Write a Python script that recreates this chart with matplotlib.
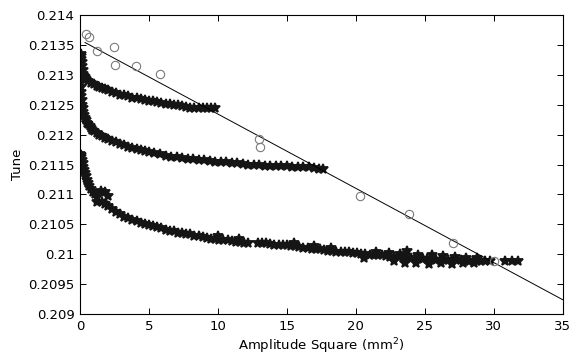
import matplotlib.pyplot as plt
import matplotlib.ticker as mticker

# measured tune points (open circles)
meas_x = [0.41, 0.68, 1.26, 2.47, 2.54, 4.07, 5.81, 12.95, 13.07, 20.28, 23.89, 27.06, 30.06]
meas_y = [0.21369, 0.21364, 0.21339, 0.21347, 0.21316, 0.21314, 0.21302,
          0.21192, 0.21179, 0.21097, 0.21067, 0.21018, 0.20989]

# linear fit through the measured points
fit_x = [0.36, 35.0]
fit_y = [0.21354, 0.20924]

# tracking curve 1 (top)
c1_x = [0.05, 0.08, 0.10, 0.12, 0.15, 0.18, 0.22, 0.28, 0.35, 0.45, 0.6, 0.8, 1.0, 1.2, 1.4,
        1.6, 1.8, 2.0, 2.3, 2.6, 2.9, 3.2, 3.5, 3.8, 4.1, 4.4, 4.7, 5.0, 5.3, 5.6, 5.9,
        6.2, 6.5, 6.8, 7.1, 7.4, 7.7, 8.0, 8.3, 8.6, 8.9, 9.2, 9.5, 9.8]
c1_y = [0.21334, 0.21331, 0.21327, 0.21321, 0.21315, 0.21308, 0.21302, 0.21298, 0.21296,
        0.21293, 0.21290, 0.21287, 0.21284, 0.21282, 0.21280, 0.21278, 0.21276, 0.21275,
        0.21272, 0.21270, 0.21267, 0.21266, 0.21264, 0.21262, 0.21261, 0.21260, 0.21258,
        0.21257, 0.21256, 0.21255, 0.21253, 0.21252, 0.21251, 0.21250, 0.21249, 0.21248,
        0.21246, 0.21245, 0.21245, 0.21244, 0.21244, 0.21244, 0.21244, 0.21244]

# tracking curve 2 (middle)
c2_x = [0.02, 0.05, 0.08, 0.10, 0.12, 0.15, 0.18, 0.22, 0.27, 0.33, 0.40, 0.5, 0.6, 0.7,
        0.8, 0.9, 1.0, 1.2, 1.4, 1.6, 1.8, 2.0, 2.3, 2.6, 2.9, 3.2, 3.5, 3.8, 4.1, 4.4,
        4.7, 5.0, 5.4, 5.8, 6.2, 6.6, 7.0, 7.4, 7.8, 8.2, 8.6, 9.0, 9.4, 9.8, 10.2, 10.6,
        11.0, 11.4, 11.8, 12.2, 12.6, 13.0, 13.4, 13.8, 14.2, 14.6, 15.0, 15.4, 15.8,
        16.2, 16.6, 17.0, 17.3, 17.6]
c2_y = [0.21286, 0.21280, 0.21272, 0.21265, 0.21258, 0.21250, 0.21244, 0.21238, 0.21233,
        0.21228, 0.21224, 0.21220, 0.21217, 0.21214, 0.21211, 0.21208, 0.21206, 0.21203,
        0.21200, 0.21197, 0.21195, 0.21193, 0.21190, 0.21187, 0.21184, 0.21182, 0.21180,
        0.21178, 0.21176, 0.21174, 0.21172, 0.21171, 0.21169, 0.21167, 0.21165, 0.21163,
        0.21162, 0.21161, 0.21160, 0.21159, 0.21158, 0.21157, 0.21156, 0.21155, 0.21155,
        0.21154, 0.21153, 0.21152, 0.21151, 0.21150, 0.21150, 0.21149, 0.21148, 0.21148,
        0.21148, 0.21147, 0.21147, 0.21146, 0.21146, 0.21145, 0.21145, 0.21144, 0.21143,
        0.21142]

# tracking curve 3 (bottom)
c3_x = [0.02, 0.06, 0.10, 0.15, 0.20, 0.25, 0.30, 0.36, 0.42, 0.50, 0.58, 0.68, 0.80, 0.95,
        1.10, 1.25, 1.2, 1.5, 1.8, 2.0, 1.6, 1.8, 2.0, 2.3, 2.6, 2.9, 3.2, 3.5, 3.8, 4.1,
        4.4, 4.7, 5.0, 5.3, 5.6, 5.9, 6.2, 6.5, 6.8, 7.1, 7.4, 7.7, 8.0, 8.3, 8.6, 8.9,
        9.2, 9.5, 9.8, 10.1, 10.4, 10.7, 11.0, 11.3, 11.6, 11.9, 12.2, 12.9, 13.2, 13.5,
        13.8, 14.1, 14.4, 14.7, 15.0, 15.3, 15.6, 15.9, 16.2, 16.5, 16.8, 17.1, 17.4,
        17.7, 18.0, 18.3, 18.6, 18.9, 19.2, 19.5, 19.8, 20.1, 20.4, 20.7, 21.0, 21.3,
        21.6, 21.9, 22.2, 22.5, 22.8, 23.1, 23.4, 23.7, 24.0, 24.3, 24.6, 24.9, 25.2,
        25.5, 25.8, 26.1, 26.4, 26.7, 27.0, 27.3, 27.6, 27.9, 28.2, 28.5, 28.8, 29.1,
        29.4, 29.7, 30.8, 31.3, 31.8,
        21.5, 22.4, 23.2, 23.7, 24.5, 25.5, 26.3, 27.2, 28.0, 28.8,
        20.6, 22.8, 23.6, 24.4, 25.3, 26.2, 27.0, 27.8, 28.6,
        10.0, 11.5, 15.5, 17.0, 18.2]
c3_y = [0.21168, 0.21166, 0.21162, 0.21158, 0.21152, 0.21146, 0.21140, 0.21136, 0.21130,
        0.21124, 0.21119, 0.21114, 0.21109, 0.21104, 0.21100, 0.21096, 0.21088, 0.21105,
        0.21104, 0.21098, 0.21088, 0.21084, 0.21080, 0.21075, 0.21071, 0.21067, 0.21063,
        0.21060, 0.21057, 0.21055, 0.21053, 0.21051, 0.21049, 0.21047, 0.21045, 0.21043,
        0.21041, 0.21039, 0.21038, 0.21036, 0.21035, 0.21034, 0.21033, 0.21031, 0.21030,
        0.21029, 0.21027, 0.21026, 0.21025, 0.21024, 0.21024, 0.21023, 0.21022, 0.21021,
        0.21020, 0.21019, 0.21019, 0.21019, 0.21019, 0.21018, 0.21017, 0.21016, 0.21016,
        0.21015, 0.21015, 0.21014, 0.21013, 0.21012, 0.21011, 0.21010, 0.21009, 0.21009,
        0.21008, 0.21007, 0.21006, 0.21005, 0.21004, 0.21004, 0.21003, 0.21003, 0.21002,
        0.21002, 0.21001, 0.21000, 0.20999, 0.20999, 0.20998, 0.20998, 0.20997, 0.20996,
        0.20995, 0.20995, 0.20994, 0.20994, 0.20993, 0.20993, 0.20993, 0.20992, 0.20992,
        0.20992, 0.20991, 0.20991, 0.20991, 0.20990, 0.20990, 0.20990, 0.20990, 0.20989,
        0.20989, 0.20989, 0.20989, 0.20988, 0.20988, 0.20988, 0.20988, 0.20988, 0.20988,
        0.21004, 0.21002, 0.21001, 0.21005, 0.20998, 0.20998, 0.20997, 0.20996, 0.20994,
        0.20994,
        0.20994, 0.20988, 0.20985, 0.20986, 0.20984, 0.20985, 0.20984, 0.20985, 0.20986,
        0.21030, 0.21026, 0.21018, 0.21014, 0.21011]

x_ticks = [0, 5, 10, 15, 20, 25, 30, 35]
y_ticks = [0.209, 0.2095, 0.21, 0.2105, 0.211, 0.2115, 0.212, 0.2125, 0.213, 0.2135, 0.214]

plt.rcParams['font.family'] = ['DejaVu Sans']
fig = plt.figure(figsize=(5.7, 3.58), dpi=100)
ax = fig.add_axes([0.1404, 0.1229, 0.8466, 0.8352])

dot_style = dict(linestyle='none', marker='*', markersize=7, color='#151515',
                 markeredgewidth=1.3)
for cx, cy in [(c1_x, c1_y), (c2_x, c2_y), (c3_x, c3_y)]:
    ax.plot(cx, cy, **dot_style)

ax.plot(fit_x, fit_y, color='black', linewidth=0.7)
ax.plot(meas_x, meas_y, linestyle='none', marker='o', markersize=6,
        markerfacecolor='none', markeredgecolor='#7a7a7a', markeredgewidth=0.8)

ax.set_xlim(0, 35)
ax.set_ylim(0.209, 0.214)
ax.set_xticks(x_ticks)
ax.set_yticks(y_ticks)
ax.yaxis.set_major_formatter(mticker.FuncFormatter(lambda v, p: '%g' % round(v, 5)))
ax.tick_params(direction='in', top=True, right=True, length=4, width=0.7,
               labelsize=9.5, pad=4)
for s in ax.spines.values():
    s.set_linewidth(0.8)

ax.set_xlabel('Amplitude Square (mm$^2$)', fontsize=9.5, labelpad=3)
ax.set_ylabel('Tune', fontsize=9.5, labelpad=3)

fig.savefig('out.png', dpi=100)
